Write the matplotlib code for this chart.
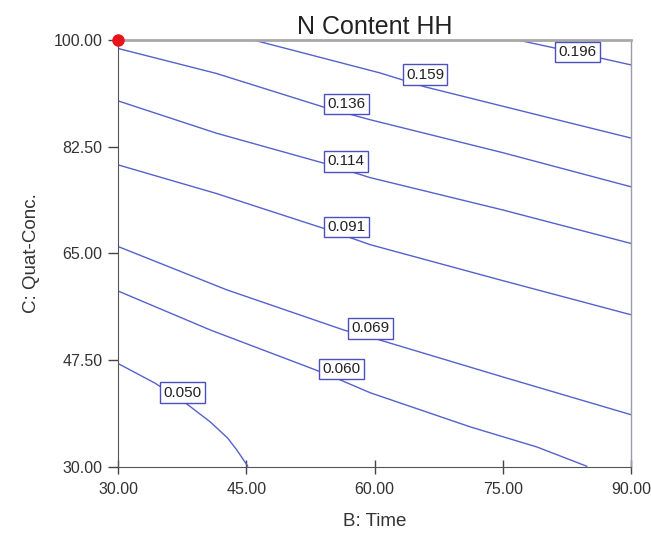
import matplotlib
matplotlib.use("Agg")
import matplotlib.pyplot as plt

plt.rcParams['font.family'] = ['Liberation Sans', 'DejaVu Sans']

# ---- data ----
x_ticks = [30, 45, 60, 75, 90]
y_ticks = [30, 47.5, 65, 82.5, 100]

levels = ["0.050", "0.060", "0.069", "0.091", "0.114", "0.136", "0.159", "0.196"]

c050_x = [30.0, 34.3, 38.2, 40.8, 42.8, 43.9, 45.2]
c050_y = [46.9, 43.7, 40.1, 37.3, 34.7, 32.7, 30.0]

c060_x = [30.0, 40.8, 53.2, 56.0, 59.5, 71.2, 79.0, 84.9]
c060_y = [58.8, 52.4, 45.8, 44.2, 42.1, 36.5, 33.2, 30.0]

c069_x = [30.0, 42.7, 56.4, 59.8, 75.0, 90.0]
c069_y = [66.1, 59.0, 52.4, 51.1, 44.7, 38.5]

c091_x = [30.0, 41.5, 54.0, 59.5, 75.0, 90.0]
c091_y = [79.5, 74.8, 69.1, 66.4, 60.5, 54.9]

c114_x = [30.0, 41.5, 54.0, 59.5, 75.0, 90.0]
c114_y = [90.0, 84.7, 79.8, 77.4, 72.1, 66.6]

c136_x = [30.0, 41.5, 54.0, 59.5, 75.0, 90.0]
c136_y = [98.6, 94.5, 89.0, 86.9, 81.5, 75.9]

c159_x = [45.8, 60.6, 65.9, 80.5, 90.0]
c159_y = [100.0, 94.6, 92.3, 87.2, 83.9]

c196_x = [76.7, 83.3, 90.0]
c196_y = [100.0, 98.0, 95.9]

label_x = [37.5, 56.1, 59.5, 56.7, 56.7, 56.7, 65.9, 83.7]
label_y = [42.1, 46.0, 52.7, 69.3, 80.1, 89.5, 94.3, 98.0]

point_x = [30.0]
point_y = [100.0]

curves = [(c050_x, c050_y), (c060_x, c060_y), (c069_x, c069_y), (c091_x, c091_y),
          (c114_x, c114_y), (c136_x, c136_y), (c159_x, c159_y), (c196_x, c196_y)]

# ---- figure ----
fig = plt.figure(figsize=(6.51, 5.41), dpi=100)
ax = fig.add_axes([0.1813, 0.1377, 0.788, 0.7885])

line_color = '#5561cc'
for cx, cy in curves:
    ax.plot(cx, cy, color=line_color, lw=1.0, solid_capstyle='butt')

for lx, ly, txt in zip(label_x, label_y, levels):
    ax.text(lx, ly, txt, ha='center', va='center', fontsize=11, color='#222222',
            bbox=dict(boxstyle='square,pad=0.22', facecolor='white', edgecolor='#4a50c0', lw=1.0),
            zorder=5)

ax.plot(point_x, point_y, 'o', color='#e8141c', markersize=8, clip_on=False, zorder=10)

ax.set_xlim(30, 90)
ax.set_ylim(30, 100)
ax.set_xticks(x_ticks)
ax.set_yticks(y_ticks)
ax.set_xticklabels([f"{v:.2f}" for v in x_ticks])
ax.set_yticklabels([f"{v:.2f}" for v in y_ticks])
ax.tick_params(axis='x', direction='inout', length=10, width=1, colors='#444444',
               labelsize=11.5, labelcolor='#333333', pad=6)
ax.tick_params(axis='y', direction='out', length=7, width=1, colors='#444444',
               labelsize=11.5, labelcolor='#333333', pad=4)

ax.spines['top'].set_color('#a8a8a8')
ax.spines['top'].set_linewidth(2)
ax.spines['right'].set_color('#9a9aaa')
ax.spines['right'].set_linewidth(1)
ax.spines['left'].set_color('#555555')
ax.spines['bottom'].set_color('#555555')

ax.set_title("N Content HH", fontsize=18, color='#222222', pad=4)
ax.set_xlabel("B: Time", fontsize=13.5, color='#333333', labelpad=12)
ax.set_ylabel("C: Quat-Conc.", fontsize=13.5, color='#333333', labelpad=10)

fig.savefig("out.png", dpi=100)
